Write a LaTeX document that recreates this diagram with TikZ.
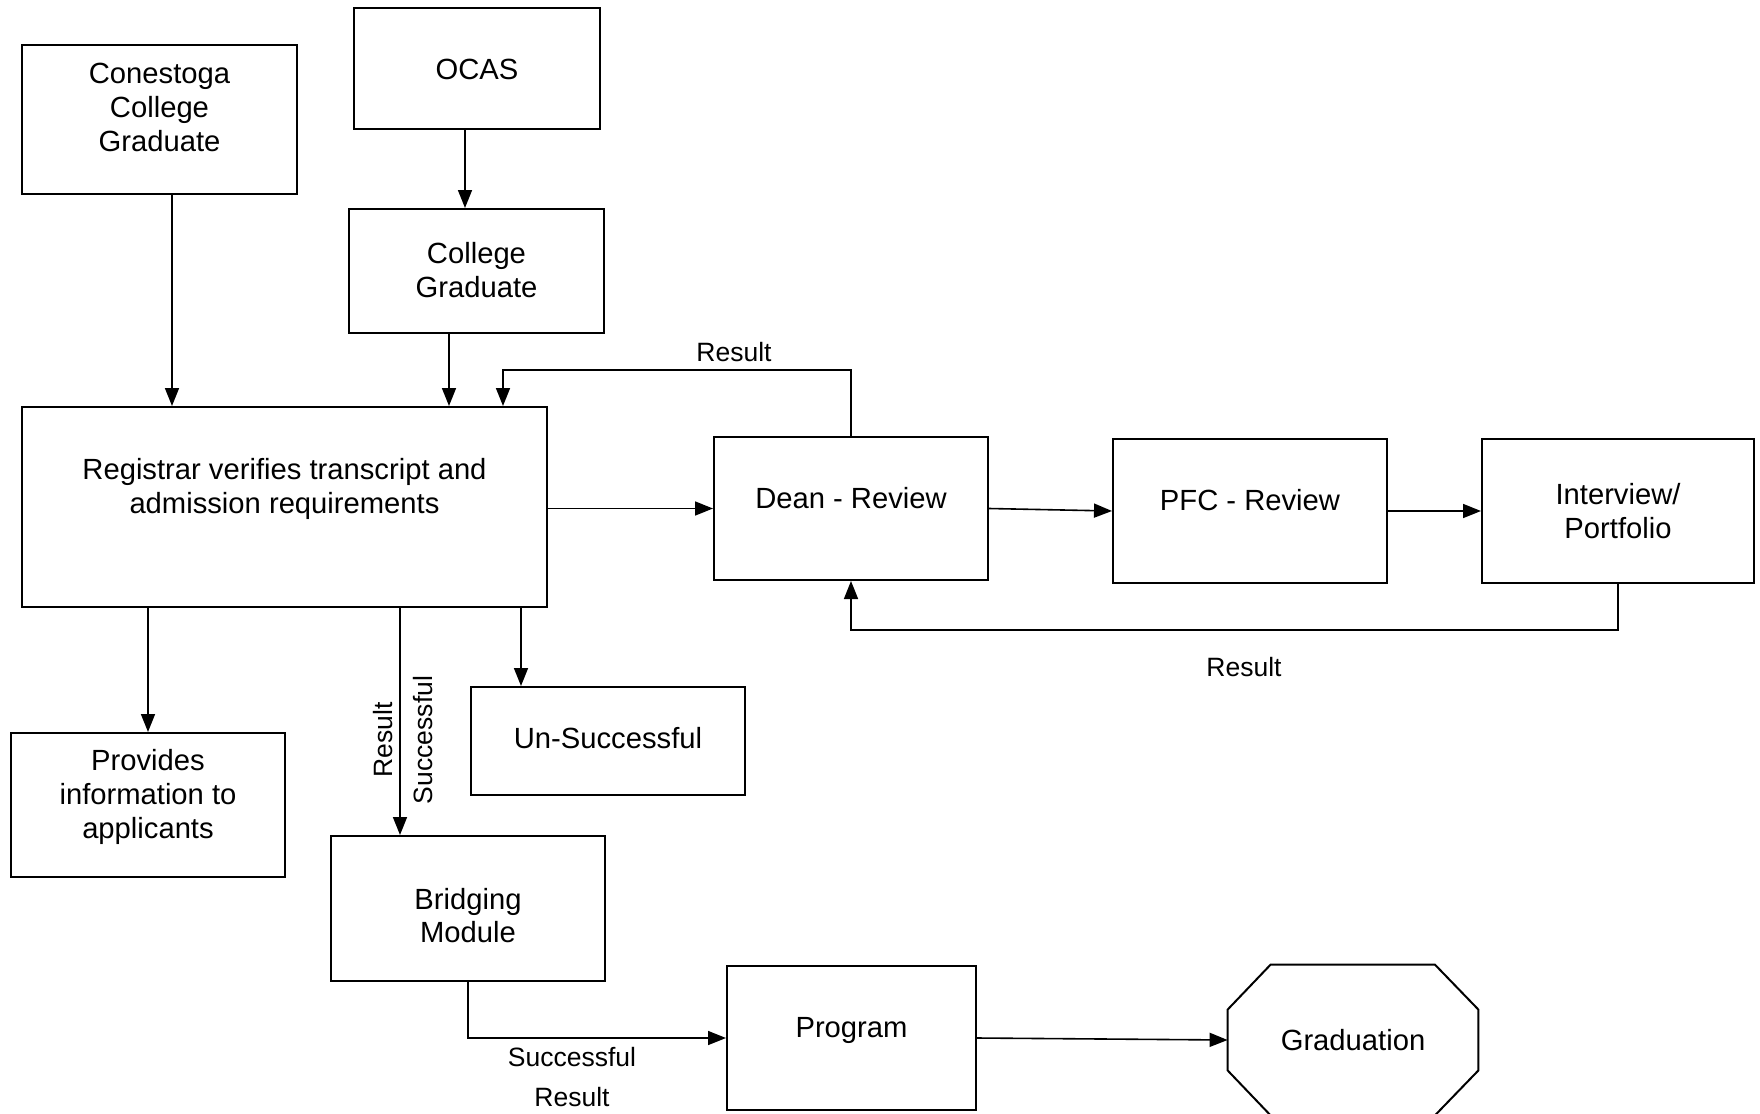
\documentclass[tikz,border=0pt]{standalone}
\usepackage{fontspec}
\setmainfont{Liberation Sans}
\usetikzlibrary{arrows.meta}
\begin{document}
\begin{tikzpicture}[x=0.5pt,y=-0.5pt,
  box/.style={draw, line width=1pt, rectangle, inner sep=0pt, fill=white},
  txt/.style={font=\fontsize{14.6pt}{16.85pt}\selectfont, align=center, inner sep=0pt},
  lbl/.style={font=\fontsize{13.25pt}{15pt}\selectfont, inner sep=0pt},
  arr/.style={line width=0.8pt, -{Triangle[length=9pt,width=7pt]}},
  ln/.style={line width=0.8pt}]
\useasboundingbox (0,0) rectangle (1760,1113);

% boxes
\node[box, minimum width=137.5pt, minimum height=74.5pt,
  label={[txt,yshift=6pt]center:Conestoga\\College\\Graduate}] (cons) at (159.5,119.5) {};
\node[box, minimum width=123pt, minimum height=60.5pt,
  label={[txt,yshift=-0.5pt]center:OCAS}] (ocas) at (477,68.5) {};
\node[box, minimum width=127.5pt, minimum height=62pt,
  label={[txt,yshift=0.5pt]center:College\\Graduate}] (cg) at (476.5,271) {};
\node[box, minimum width=262.5pt, minimum height=100pt,
  label={[txt,yshift=9pt]center:Registrar verifies transcript and\\admission requirements}] (reg) at (284.5,507) {};
\node[box, minimum width=137pt, minimum height=71.5pt,
  label={[txt,yshift=5pt]center:Dean - Review}] (dean) at (851,508.5) {};
\node[box, minimum width=137pt, minimum height=72pt,
  label={[txt,yshift=5.5pt]center:PFC - Review}] (pfc) at (1250,511) {};
\node[box, minimum width=136pt, minimum height=72pt,
  label={[txt]center:Interview/\\Portfolio}] (intv) at (1618,511) {};
\node[box, minimum width=137pt, minimum height=54pt,
  label={[txt,yshift=1.5pt]center:Un-Successful}] (uns) at (608,741) {};
\node[box, minimum width=137pt, minimum height=72pt,
  label={[txt,yshift=4pt]center:Provides\\information to\\applicants}] (prov) at (148,805) {};
\node[box, minimum width=137pt, minimum height=72.5pt,
  label={[txt,yshift=-3.5pt]center:Bridging\\Module}] (brid) at (468,908.5) {};
\node[box, minimum width=124.5pt, minimum height=72pt,
  label={[txt,yshift=4pt]center:Program}] (prog) at (851.5,1038) {};
\node[txt, minimum width=125pt, minimum height=75pt] (grad) at (1353,1040) {Graduation};
\draw[line width=1pt]
  ([xshift=21.5pt]grad.north west) -- ([xshift=-21.75pt]grad.north east)
  -- ([yshift=-22.5pt]grad.north east) -- ([yshift=22.5pt]grad.south east)
  -- ([xshift=-21.75pt]grad.south east) -- ([xshift=21.5pt]grad.south west)
  -- ([yshift=22.5pt]grad.south west) -- ([yshift=-22.5pt]grad.north west) -- cycle;

% helper coordinates
\coordinate (ck) at (172,300);
\coordinate (co) at (465,170);
\coordinate (cc) at (449,380);
\coordinate (rtop) at (503,370);
\coordinate (rbot) at (851,630);
\coordinate (cb) at (400,700);
\coordinate (cu) at (521,650);

% connectors
\draw[arr] (ocas.south -| co) -- (cg.north -| co);
\draw[arr] (cons.south -| ck) -- (reg.north -| ck);
\draw[arr] (cg.south -| cc) -- (reg.north -| cc);
\draw[arr] (dean.north) -- (dean.north |- rtop) -- (rtop) -- (rtop |- reg.north);
\draw[arr] (reg.east |- dean.west) -- (dean.west);
\draw[arr] (dean.east) -- (pfc.west);
\draw[arr] (pfc.east) -- (intv.west);
\draw[arr] (intv.south) -- (intv.south |- rbot) -- (rbot) -- (dean.south);
\draw[arr] (reg.south -| prov.north) -- (prov.north);
\draw[arr] (reg.south -| cb) -- (brid.north -| cb);
\draw[arr] (reg.south -| cu) -- (uns.north -| cu);
\draw[arr] (brid.south) |- (prog.west);
\draw[arr] (prog.east) -- (grad.west);

% labels
\node[lbl] (l1) at (734,352) {Result};
\node[lbl] (l2) at (1244,667) {Result};
\node[lbl, rotate=90] (l3) at (383,740) {Result};
\node[lbl, rotate=90] (l4) at (423,740) {Successful};
\node[lbl] (l5) at (572,1057) {Successful};
\node[lbl] (l6) at (572,1097) {Result};
\end{tikzpicture}
\end{document}
